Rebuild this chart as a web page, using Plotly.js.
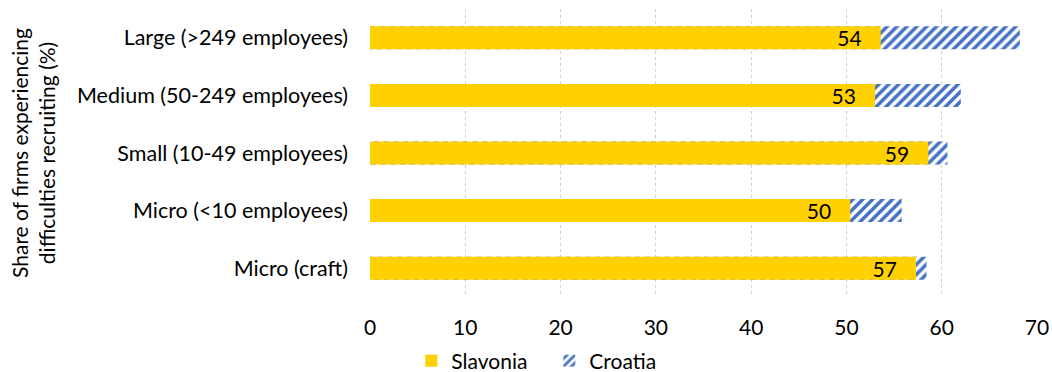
<!DOCTYPE html>
<html>
<head>
<meta charset="utf-8">
<script src="https://cdn.plot.ly/plotly-3.0.1.min.js"></script>
<style>html,body{margin:0;padding:0;background:#fff;}#chart{width:1052px;height:372px;}</style>
</head>
<body>
<div id="chart"></div>
<script>
const categories = ["Large (>249 employees)", "Medium (50-249 employees)", "Small (10-49 employees)", "Micro (<10 employees)", "Micro (craft)"];
const slavonia = [53.6, 53.0, 58.6, 50.4, 57.3];
const croatia = [68.2, 62.0, 60.6, 55.8, 58.4];
const slavoniaLabels = slavonia.map(v => String(Math.round(v)) + "\u00a0\u00a0\u00a0");
const xTicks = [0, 10, 20, 30, 40, 50, 60, 70];

const FONT = "Lato, 'Open Sans', sans-serif";
const FS = 21;

const traces = [
  {
    type: "bar", orientation: "h", name: "Croatia",
    y: categories, x: croatia,
    marker: {color: "#ffffff", line: {width: 0},
      pattern: {shape: "/", fgcolor: "#4472C4", bgcolor: "#ffffff", size: 7, solidity: 0.5, fillmode: "replace"}},
    legendrank: 2, hoverinfo: "skip"
  },
  {
    type: "bar", orientation: "h", name: "Slavonia",
    y: categories, x: slavonia,
    marker: {color: "#FFD100", line: {width: 0}},
    text: slavoniaLabels, textposition: "inside", insidetextanchor: "end", textangle: 0,
    constraintext: "none",
    textfont: {family: FONT, size: FS, color: "#000"},
    legendrank: 1, hoverinfo: "skip"
  }
];

const layout = {
  width: 1052, height: 372,
  margin: {l: 370, r: 15, t: 9, b: 75},
  paper_bgcolor: "#fff", plot_bgcolor: "#fff",
  barmode: "overlay", bargap: 0.6,
  font: {family: FONT, size: FS, color: "#000"},
  xaxis: {
    range: [0, 70], tickvals: xTicks, ticktext: xTicks.map(String),
    showgrid: true, gridcolor: "#D0D0D0", griddash: "dot", gridwidth: 1,
    zeroline: false, showline: false, ticks: "",
    ticklabelstandoff: 16,
    tickfont: {family: FONT, size: FS, color: "#000"},
    fixedrange: true
  },
  yaxis: {
    autorange: "reversed", showgrid: false, zeroline: false, showline: false, ticks: "",
    ticklabelstandoff: 21,
    tickfont: {family: FONT, size: 21.5, color: "#000"},
    title: {text: "Share of firms experiencing<br>difficulties recruiting (%)", font: {family: FONT, size: FS, color: "#000"}, standoff: 15},
    fixedrange: true
  },
  showlegend: true,
  legend: {orientation: "h", xref: "container", yref: "container", x: 0.391, xanchor: "left", y: 0.0296, yanchor: "middle",
    font: {family: FONT, size: FS, color: "#000"}, itemwidth: 30, entrywidth: 93, entrywidthmode: "pixels",
    tracegroupgap: 0, traceorder: "normal"},
};

Plotly.newPlot("chart", traces, layout, {displayModeBar: false, staticPlot: true});
</script>
</body>
</html>
